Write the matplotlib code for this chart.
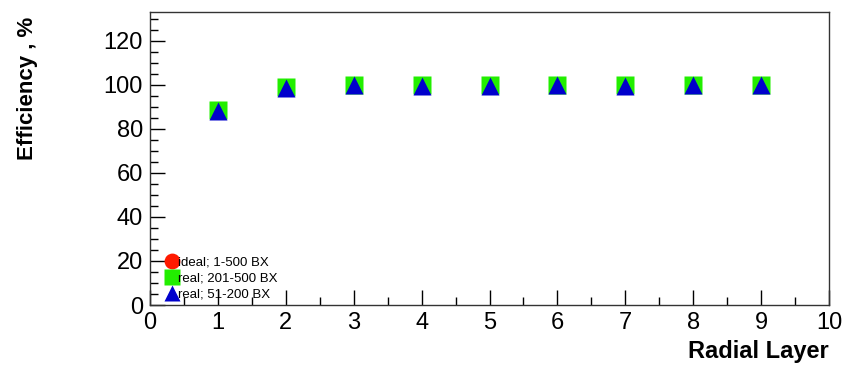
import matplotlib
matplotlib.use("Agg")
import matplotlib.pyplot as plt
from matplotlib.ticker import MultipleLocator

plt.rcParams['font.family'] = ['Liberation Sans', 'DejaVu Sans']

# radial layers and efficiencies (%)
layers = [1, 2, 3, 4, 5, 6, 7, 8, 9]
eff_ideal = [88.5, 98.8, 100.0, 100.0, 100.0, 100.0, 100.0, 100.0, 100.0]
eff_real_201_500 = [88.5, 98.8, 100.0, 99.8, 99.8, 100.0, 99.8, 100.0, 100.0]
eff_real_51_200 = [88.0, 98.5, 99.8, 99.6, 99.6, 99.8, 99.6, 99.8, 99.8]

labels = ["ideal; 1-500 BX", "real; 201-500 BX", "real; 51-200 BX"]

fig = plt.figure(figsize=(8.61, 3.65), dpi=100)
ax = fig.add_axes([150 / 861, 60 / 365, 679 / 861, 293 / 365])

ax.plot(layers, eff_ideal, "o", color="#ff1a00", ms=12, mec="none")
ax.plot(layers, eff_real_201_500, "s", color="#22ee00", ms=12.5, mec="none")
ax.plot(layers, eff_real_51_200, "^", color="#0000cc", ms=12.5, mec="none")

ax.set_xlim(0, 10)
ax.set_ylim(0, 133)
ax.xaxis.set_major_locator(MultipleLocator(1))
ax.xaxis.set_minor_locator(MultipleLocator(0.5))
ax.yaxis.set_major_locator(MultipleLocator(20))
ax.yaxis.set_minor_locator(MultipleLocator(5))
ax.tick_params(which="both", direction="in", top=False, right=False,
               labelsize=17, pad=5)
ax.tick_params(which="major", length=11, width=1)
ax.tick_params(which="minor", length=6, width=1)
for s in ax.spines.values():
    s.set_linewidth(1)
    s.set_color("#333333")

fig.text(27 / 861, 1 - 88 / 365, "Efficiency , %", rotation=90, fontsize=16,
         fontweight="bold", ha="center", va="center")
fig.text(829 / 861, 2 / 365, "Radial Layer", fontsize=17,
         fontweight="bold", ha="right", va="bottom")

ax.legend(labels, loc="lower left", frameon=False, fontsize=9.5,
          bbox_to_anchor=(0.018, 0.015), borderaxespad=0, borderpad=0,
          handletextpad=-0.3, labelspacing=0.3,
          handlelength=1.5, markerscale=0.95)

fig.savefig("out.png", dpi=100)
